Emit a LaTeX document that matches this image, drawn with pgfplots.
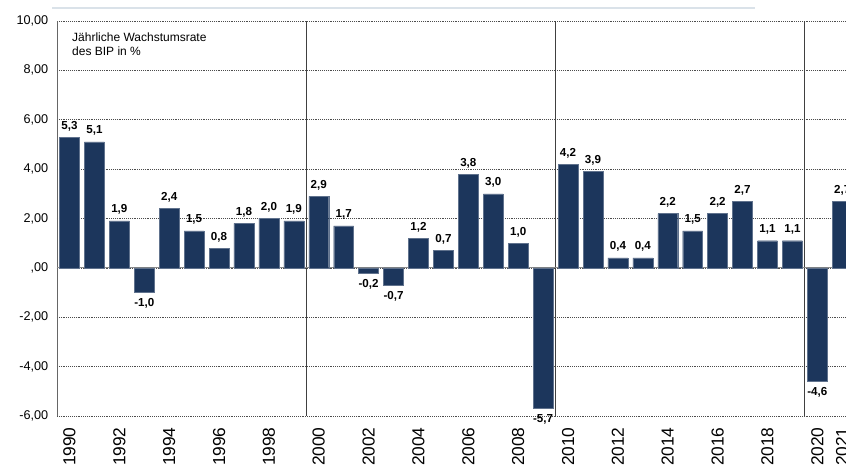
\documentclass[border=0pt]{standalone}
\usepackage{pgfplots}
\pgfplotsset{compat=1.18}
\usepackage{fontspec}
\setmainfont{Liberation Sans}
\definecolor{barblue}{RGB}{28,54,92}
\definecolor{topline}{RGB}{218,226,233}
\begin{document}
\begin{tikzpicture}
\begin{axis}[
  scale only axis, width=598.3pt, height=296.25pt,
  xmin=1989.5, xmax=2021.5, ymin=-6, ymax=10,
  clip=false,
  ybar, bar width=0.8,
  axis x line*=bottom, axis y line*=left,
  x axis line style={draw=none},
  y axis line style={draw=black!60, line width=0.6pt},
  major tick length=0pt,
  ytick={-6,-4,...,10},
  yticklabels={{-6,00},{-4,00},{-2,00},{,00},{2,00},{4,00},{6,00},{8,00},{10,00}},
  yticklabel style={font=\fontsize{9.5}{9.5}\selectfont, xshift=-3pt},
  xtick={1990,1992,...,2020,2021},
  xticklabels={1990,1992,1994,1996,1998,2000,2002,2004,2006,2008,2010,2012,2014,2016,2018,2020,2021},
  xticklabel style={rotate=90, anchor=east, font=\fontsize{13}{13}\selectfont, xshift=-5pt},
  ymajorgrids, major grid style={densely dotted, draw=black!70, line width=0.5pt},
  extra x ticks={1999.5,2009.5,2019.5}, extra x tick labels={},
  extra x tick style={grid=major, major grid style={solid, draw=black!75, line width=0.6pt}},
  extra y ticks={0}, extra y tick labels={},
  extra y tick style={grid=major, major grid style={solid, draw=black!45, line width=0.7pt}},
  nodes near coords={\pgfmathprintnumber[fixed,fixed zerofill,precision=1,use comma,assume math mode=true]{\pgfplotspointmeta}},
  nodes near coords align={vertical},
  every node near coord/.append style={font=\bfseries\fontsize{8.7}{8.7}\selectfont, black, inner ysep=4.5pt},
]
\addplot[fill=barblue, draw=barblue!70!white, line width=0.3pt] coordinates {
(1990,5.3) (1991,5.1) (1992,1.9) (1993,-1.0) (1994,2.4) (1995,1.5) (1996,0.8) (1997,1.8) (1998,2.0) (1999,1.9)
(2000,2.9) (2001,1.7) (2002,-0.2) (2003,-0.7) (2004,1.2) (2005,0.7) (2006,3.8) (2007,3.0) (2008,1.0) (2009,-5.7)
(2010,4.2) (2011,3.9) (2012,0.4) (2013,0.4) (2014,2.2) (2015,1.5) (2016,2.2) (2017,2.7) (2018,1.1) (2019,1.1)
(2020,-4.6) (2021,2.7)
};
\draw[topline, line width=1.5pt] (axis cs:1989.3,10.53) -- (axis cs:2017.5,10.53);
\node[anchor=north west, align=left, inner sep=0pt, font=\fontsize{9}{10.5}\selectfont] at (axis cs:1990.1,9.53) {Jährliche Wachstumsrate\\des BIP in \%};
\end{axis}
\pgfresetboundingbox
\useasboundingbox (-42.75pt,-37.5pt) rectangle (591.75pt,312pt);
\end{tikzpicture}
\end{document}
